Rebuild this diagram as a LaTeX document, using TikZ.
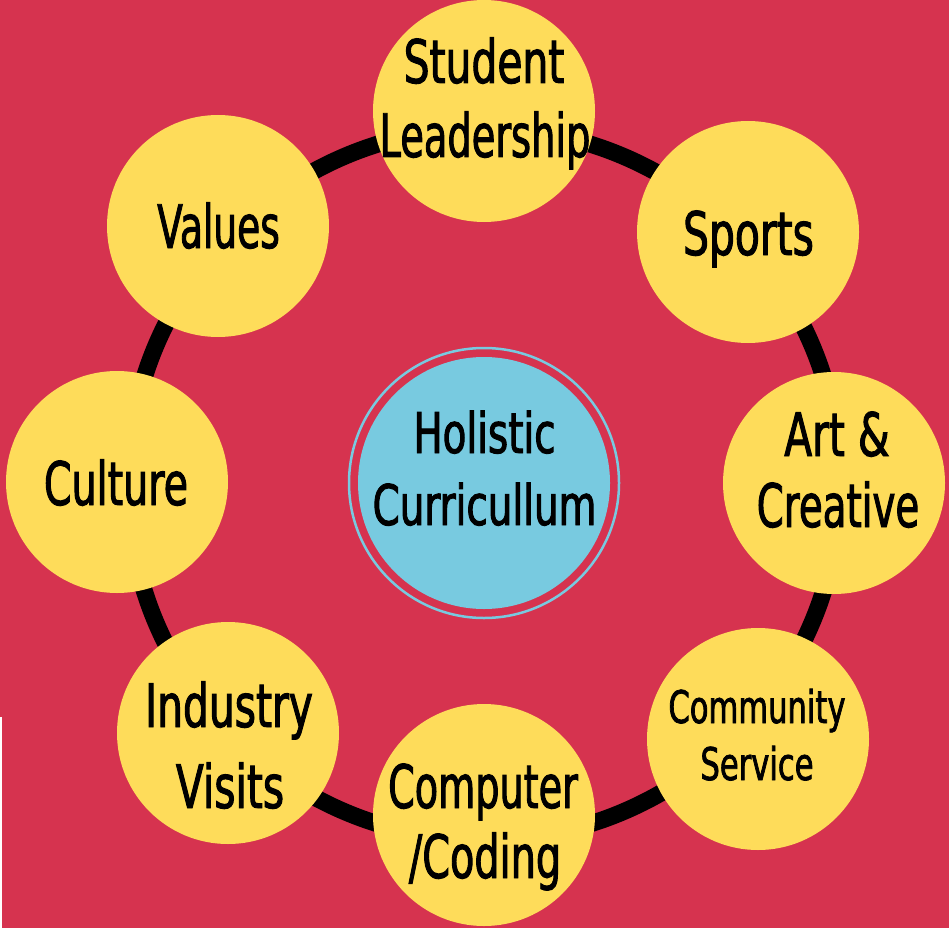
\documentclass[tikz,border=0pt]{standalone}
\usepackage{fontspec}
\newfontfamily\hand[FakeStretch=0.68,FakeBold=1.6]{DejaVu Sans}
\definecolor{bgred}{HTML}{D6334F}
\definecolor{sun}{HTML}{FEDC5A}
\definecolor{sky}{HTML}{78CAE0}
\newcommand{\xsq}[2]{\scalebox{#1}[1]{#2}}
\begin{document}
\begin{tikzpicture}[x=1pt,y=-1pt,
  bub/.style={circle,fill=sun,draw=none,inner sep=0pt,minimum size=222pt},
  lbl/.style={anchor=base,inner sep=0pt,text=black,font=\hand\fontsize{60}{60}\selectfont},
  lbls/.style={lbl,font=\hand\fontsize{45}{45}\selectfont},
  lblc/.style={lbl,font=\hand\fontsize{56}{56}\selectfont}]
\useasboundingbox (0,0) rectangle (949,928);
\fill[bgred] (0,0) rectangle (949,928);
\fill[white] (0,717) rectangle (2,928);
% ring
\draw[black,line width=17pt] (484,484) circle[radius=356pt];
% centre
\node[circle,draw=sky,line width=2.5pt,fill=none,minimum size=270pt,inner sep=0pt] (ring) at (484,483) {};
\node[circle,fill=sky,minimum size=252pt,inner sep=0pt] (hc) at (484,483) {};
\node[lblc] (hc1) at (484.5,453) {\xsq{1.02}{Holistic}};
\node[lblc] (hc2) at (484.5,525) {\xsq{1.02}{Curricullum}};
% bubbles
\node[bub] (sl) at (484,111) {};
\node[bub] (sp) at (748,232) {};
\node[bub] (ac) at (834,483) {};
\node[bub] (cs) at (758,739) {};
\node[bub] (cc) at (484,815) {};
\node[bub] (iv) at (228,733) {};
\node[bub] (cu) at (117,482) {};
\node[bub] (va) at (218,226) {};
% labels
\node[lbl] (sl1) at (484,83) {Student};
\node[lbl] (sl2) at (485,157) {\xsq{0.94}{Leadership}};
\node[lbl] (sp1) at (748.5,255) {Sports};
\node[lbl] (va1) at (218.5,248) {\xsq{0.92}{Values}};
\node[lbl] (ac1) at (837,456) {Art \&};
\node[lbl] (ac2) at (838,527) {\xsq{0.95}{Creative}};
\node[lbl] (cu1) at (116,505) {\xsq{0.97}{Culture}};
\node[lbls] (cs1) at (757,723) {Community};
\node[lbls] (cs2) at (757,780) {Service};
\node[lbl] (iv1) at (229,727) {Industry};
\node[lbl] (iv2) at (230,808) {Visits};
\node[lbl] (cc1) at (483,808) {\xsq{0.935}{Computer}};
\node[lbl] (cc2) at (485,878) {\xsq{0.975}{/Coding}};
\end{tikzpicture}
\end{document}
